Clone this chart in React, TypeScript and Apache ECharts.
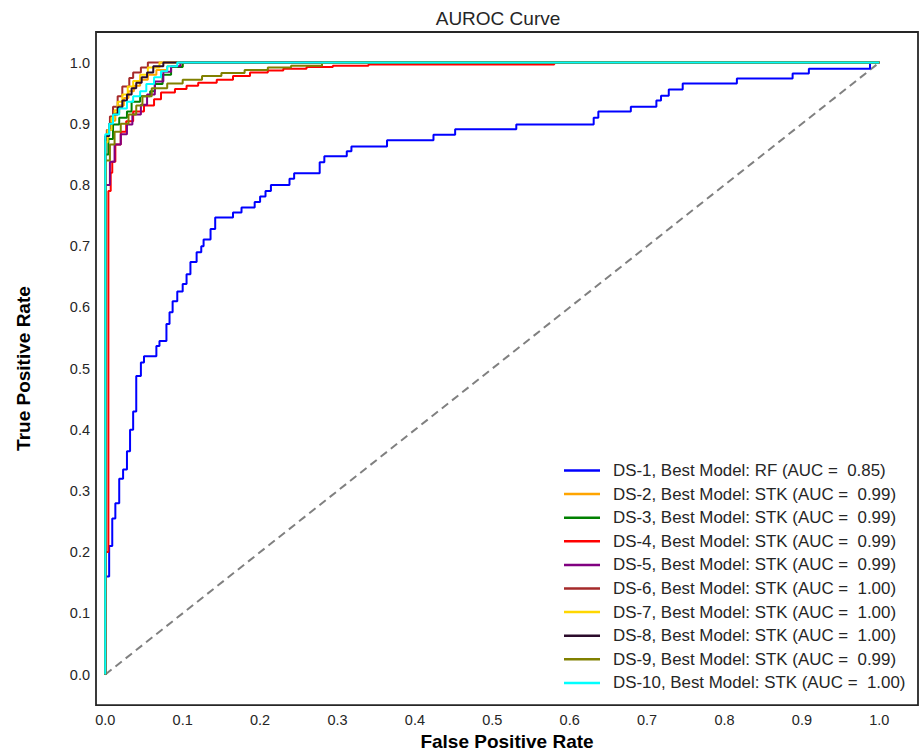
import React, { useEffect, useRef } from "react";
import * as echarts from "echarts";

const TITLE = "AUROC Curve";
const X_NAME = "False Positive Rate";
const Y_NAME = "True Positive Rate";
const TICKS = [0, 0.1, 0.2, 0.3, 0.4, 0.5, 0.6, 0.7, 0.8, 0.9, 1.0];

const NAMES = [
  "DS-1, Best Model: RF (AUC =  0.85)",
  "DS-2, Best Model: STK (AUC =  0.99)",
  "DS-3, Best Model: STK (AUC =  0.99)",
  "DS-4, Best Model: STK (AUC =  0.99)",
  "DS-5, Best Model: STK (AUC =  0.99)",
  "DS-6, Best Model: STK (AUC =  1.00)",
  "DS-7, Best Model: STK (AUC =  1.00)",
  "DS-8, Best Model: STK (AUC =  1.00)",
  "DS-9, Best Model: STK (AUC =  0.99)",
  "DS-10, Best Model: STK (AUC =  1.00)",
];

const COLORS = [
  "#0000ff", "#ffa500", "#008000", "#ff0000", "#800080",
  "#a52a2a", "#ffd700", "#2b0b2b", "#808000", "#00ffff",
];

const DS1 = [[0,0],[0,0.16],[0.005,0.16],[0.005,0.21],[0.009,0.21],[0.009,0.255],[0.013,0.255],[0.013,0.28],[0.018,0.28],[0.018,0.32],[0.023,0.32],[0.023,0.335],[0.028,0.335],[0.028,0.365],[0.032,0.365],[0.032,0.4],[0.036,0.4],[0.036,0.43],[0.04,0.43],[0.04,0.488],[0.046,0.488],[0.046,0.51],[0.05,0.51],[0.05,0.52],[0.066,0.52],[0.066,0.537],[0.07,0.537],[0.07,0.545],[0.079,0.545],[0.079,0.573],[0.083,0.573],[0.083,0.592],[0.087,0.592],[0.087,0.61],[0.093,0.61],[0.093,0.626],[0.1,0.626],[0.1,0.638],[0.105,0.638],[0.105,0.654],[0.11,0.654],[0.11,0.674],[0.118,0.674],[0.118,0.69],[0.124,0.69],[0.124,0.7],[0.127,0.7],[0.127,0.711],[0.136,0.711],[0.136,0.728],[0.142,0.728],[0.142,0.747],[0.165,0.747],[0.165,0.755],[0.176,0.755],[0.176,0.763],[0.193,0.763],[0.193,0.772],[0.2,0.772],[0.2,0.781],[0.207,0.781],[0.207,0.79],[0.214,0.79],[0.214,0.8],[0.238,0.8],[0.238,0.81],[0.244,0.81],[0.244,0.819],[0.277,0.819],[0.277,0.837],[0.283,0.837],[0.283,0.847],[0.312,0.847],[0.312,0.855],[0.318,0.855],[0.318,0.863],[0.364,0.863],[0.364,0.873],[0.424,0.873],[0.424,0.882],[0.452,0.882],[0.452,0.891],[0.531,0.891],[0.531,0.899],[0.631,0.899],[0.631,0.91],[0.637,0.91],[0.637,0.92],[0.679,0.92],[0.679,0.928],[0.712,0.928],[0.712,0.938],[0.718,0.938],[0.718,0.946],[0.728,0.946],[0.728,0.956],[0.746,0.956],[0.746,0.966],[0.816,0.966],[0.816,0.974],[0.888,0.974],[0.888,0.982],[0.909,0.982],[0.909,0.99],[0.988,0.99],[0.988,1],[1,1]];

const DS2 = [[0,0],[0,0.875],[0.004,0.875],[0.004,0.89],[0.008,0.89],[0.008,0.905],[0.013,0.905],[0.013,0.918],[0.018,0.918],[0.018,0.93],[0.024,0.93],[0.024,0.942],[0.03,0.942],[0.03,0.953],[0.037,0.953],[0.037,0.962],[0.045,0.962],[0.045,0.972],[0.055,0.972],[0.055,0.98],[0.066,0.98],[0.066,0.988],[0.08,0.988],[0.08,0.994],[0.1,0.994],[0.1,1],[1,1]];

const DS3 = [[0,0],[0,0.85],[0.004,0.85],[0.004,0.875],[0.01,0.875],[0.01,0.899],[0.018,0.899],[0.018,0.91],[0.028,0.91],[0.028,0.92],[0.034,0.92],[0.034,0.936],[0.045,0.936],[0.045,0.945],[0.058,0.945],[0.058,0.953],[0.064,0.953],[0.064,0.965],[0.074,0.965],[0.074,0.98],[0.085,0.98],[0.085,0.993],[0.1,0.993],[0.1,1],[1,1]];

const DS4 = [[0,0],[0,0.2],[0.004,0.2],[0.004,0.79],[0.007,0.79],[0.007,0.82],[0.009,0.82],[0.009,0.838],[0.013,0.838],[0.013,0.866],[0.02,0.866],[0.02,0.887],[0.027,0.887],[0.027,0.904],[0.036,0.904],[0.036,0.92],[0.05,0.92],[0.05,0.93],[0.063,0.93],[0.063,0.94],[0.072,0.94],[0.072,0.951],[0.09,0.951],[0.09,0.957],[0.105,0.957],[0.105,0.962],[0.12,0.962],[0.12,0.967],[0.144,0.967],[0.144,0.972],[0.165,0.972],[0.165,0.978],[0.187,0.978],[0.187,0.984],[0.21,0.984],[0.21,0.987],[0.23,0.987],[0.23,0.99],[0.26,0.99],[0.26,0.993],[0.294,0.993],[0.294,0.995],[0.34,0.995],[0.34,0.997],[0.58,0.997],[0.58,1],[1,1]];

const DS5 = [[0,0],[0,0.8],[0.006,0.8],[0.006,0.838],[0.012,0.838],[0.012,0.866],[0.02,0.866],[0.02,0.883],[0.028,0.883],[0.028,0.899],[0.035,0.899],[0.035,0.915],[0.046,0.915],[0.046,0.931],[0.054,0.931],[0.054,0.948],[0.064,0.948],[0.064,0.969],[0.075,0.969],[0.075,0.985],[0.085,0.985],[0.085,0.994],[0.097,0.994],[0.097,1],[1,1]];

const DS6 = [[0,0],[0,0.874],[0.002,0.874],[0.002,0.89],[0.006,0.89],[0.006,0.912],[0.01,0.912],[0.01,0.928],[0.016,0.928],[0.016,0.945],[0.022,0.945],[0.022,0.961],[0.031,0.961],[0.031,0.975],[0.036,0.975],[0.036,0.984],[0.046,0.984],[0.046,0.992],[0.055,0.992],[0.055,1],[1,1]];

const DS7 = [[0,0],[0,0.87],[0.003,0.87],[0.003,0.89],[0.008,0.89],[0.008,0.91],[0.012,0.91],[0.012,0.922],[0.016,0.922],[0.016,0.936],[0.022,0.936],[0.022,0.948],[0.029,0.948],[0.029,0.961],[0.036,0.961],[0.036,0.97],[0.045,0.97],[0.045,0.98],[0.055,0.98],[0.055,0.992],[0.07,0.992],[0.07,1],[1,1]];

const DS8 = [[0,0],[0,0.88],[0.005,0.88],[0.005,0.9],[0.01,0.9],[0.01,0.915],[0.016,0.915],[0.016,0.927],[0.022,0.927],[0.022,0.938],[0.028,0.938],[0.028,0.948],[0.034,0.948],[0.034,0.958],[0.04,0.958],[0.04,0.967],[0.047,0.967],[0.047,0.976],[0.054,0.976],[0.054,0.984],[0.062,0.984],[0.062,0.994],[0.075,0.994],[0.075,1],[1,1]];

const DS9 = [[0,0],[0,0.84],[0.006,0.84],[0.006,0.866],[0.012,0.866],[0.012,0.887],[0.02,0.887],[0.02,0.9],[0.03,0.9],[0.03,0.915],[0.04,0.915],[0.04,0.93],[0.048,0.93],[0.048,0.945],[0.06,0.945],[0.06,0.958],[0.08,0.958],[0.08,0.966],[0.1,0.966],[0.1,0.972],[0.125,0.972],[0.125,0.978],[0.15,0.978],[0.15,0.983],[0.18,0.983],[0.18,0.988],[0.21,0.988],[0.21,0.992],[0.24,0.992],[0.24,0.995],[0.28,0.995],[0.28,1],[1,1]];

const DS10 = [[0,0],[0,0.883],[0.005,0.883],[0.005,0.9],[0.01,0.9],[0.01,0.915],[0.018,0.915],[0.018,0.925],[0.028,0.925],[0.028,0.936],[0.036,0.936],[0.036,0.945],[0.045,0.945],[0.045,0.953],[0.053,0.953],[0.053,0.965],[0.063,0.965],[0.063,0.976],[0.072,0.976],[0.072,0.986],[0.08,0.986],[0.08,0.994],[0.093,0.994],[0.093,1],[1,1]];

const CURVES = [DS1, DS2, DS3, DS4, DS5, DS6, DS7, DS8, DS9, DS10];
const DIAGONAL = [[0, 0], [1, 1]];

const FONT = "'Liberation Sans', Arial, sans-serif";

export default function App() {
  const ref = useRef<HTMLDivElement>(null);
  useEffect(() => {
    if (!ref.current) return;
    const chart = echarts.init(ref.current, null, { renderer: "svg" });
    const axisCommon = {
      type: "value" as const,
      axisLine: { show: false },
      axisTick: { show: false },
      splitLine: { show: false },
      nameLocation: "middle" as const,
      nameTextStyle: { fontFamily: FONT, fontSize: 19, fontWeight: "bold" as const, color: "#000" },
    };
    const labelCommon = {
      customValues: TICKS,
      formatter: (v: number) => v.toFixed(1),
      fontFamily: FONT,
      fontSize: 14.5,
      color: "#262626",
    };
    chart.setOption({
      animation: false,
      backgroundColor: "#ffffff",
      textStyle: { fontFamily: FONT },
      title: {
        text: TITLE,
        left: 493,
        textAlign: "center",
        top: 4,
        textStyle: { fontFamily: FONT, fontSize: 19, fontWeight: "normal", color: "#262626" },
      },
      grid: {
        left: 96,
        right: 4,
        top: 32,
        bottom: 49,
        show: true,
        borderColor: "#262626",
        borderWidth: 1.8,
      },
      legend: {
        data: NAMES,
        orient: "vertical",
        left: 559,
        top: 457,
        icon: "rect",
        itemWidth: 36,
        itemHeight: 2.5,
        itemGap: 6.6,
        textStyle: { fontFamily: FONT, fontSize: 16.9, color: "#262626", padding: [0, 0, 0, 8] },
      },
      xAxis: {
        ...axisCommon,
        min: -0.012,
        max: 1.05,
        name: X_NAME,
        nameGap: 24,
        axisLabel: { ...labelCommon, margin: 7 },
      },
      yAxis: {
        ...axisCommon,
        min: -0.05,
        max: 1.05,
        name: Y_NAME,
        nameGap: 63,
        axisLabel: { ...labelCommon, margin: 6 },
      },
      series: [
        {
          type: "line",
          name: "diagonal",
          data: DIAGONAL,
          symbol: "none",
          silent: true,
          lineStyle: { color: "#808080", width: 2, type: [8, 5] },
        },
        ...CURVES.map((d, i) => ({
          type: "line",
          name: NAMES[i],
          data: d,
          symbol: "none",
          color: COLORS[i],
          lineStyle: { color: COLORS[i], width: 2 },
        })),
      ],
    });
    return () => chart.dispose();
  }, []);
  return (
    <div
      ref={ref}
      style={{ position: "fixed", left: 0, top: 0, width: 922, height: 756 }}
    />
  );
}
